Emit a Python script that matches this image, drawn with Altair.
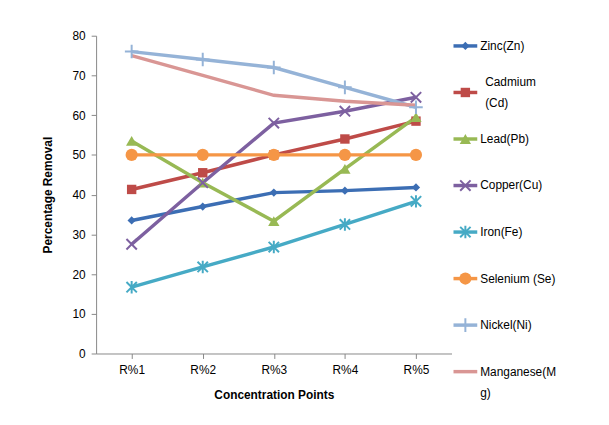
import altair as alt
import pandas as pd

points = ["R%1", "R%2", "R%3", "R%4", "R%5"]
series = ["Zinc(Zn)", "Cadmium (Cd)", "Lead(Pb)", "Copper(Cu)", "Iron(Fe)",
          "Selenium (Se)", "Nickel(Ni)", "Manganese(Mg)"]
legend_lines = [["Zinc(Zn)"], ["Cadmium", "(Cd)"], ["Lead(Pb)"], ["Copper(Cu)"], ["Iron(Fe)"],
                ["Selenium (Se)"], ["Nickel(Ni)"], ["Manganese(M", "g)"]]
zinc = [33.5, 37.0, 40.5, 41.0, 41.8]
cadmium = [41.3, 45.5, 50.0, 54.0, 58.5]
lead = [53.5, 43.0, 33.3, 46.5, 59.5]
copper = [27.5, 43.0, 58.0, 61.0, 64.5]
iron = [16.7, 21.8, 26.8, 32.5, 38.3]
selenium = [50.0, 50.0, 50.0, 50.0, 50.0]
nickel = [76.0, 74.0, 72.0, 67.0, 62.0]
manganese = [75.0, 70.0, 65.0, 63.5, 62.5]
values = [zinc, cadmium, lead, copper, iron, selenium, nickel, manganese]

colors = ["#3C6EB4", "#BE4B48", "#98B954", "#7D60A0", "#46AAC5", "#F59646", "#95B3D7", "#D99694"]
shapes = ["diamond", "square", "triangle-up", "M-1,-1L1,1M1,-1L-1,1",
          "M-1,-1L1,1M1,-1L-1,1M0,-1.2L0,1.2", "circle", "M-1.2,0L1.2,0M0,-1.2L0,1.2", None]
sizes = [70, 90, 130, 110, 110, 150, 130, 0]
filled = [True, True, True, False, False, True, False, True]
text_x = [28, 33, 28, 28, 28, 28, 28, 28]

FONT = "Liberation Sans"
W, H = 359, 321

rows = []
for s, v in zip(series, values):
    for p, val in zip(points, v):
        rows.append({"series": s, "point": p, "value": val})
df = pd.DataFrame(rows)

xenc = alt.X("point:N", sort=points, scale=alt.Scale(type="point", padding=0.5),
             axis=alt.Axis(title="Concentration Points", labelAngle=0, grid=False, domainColor="#888",
                           tickColor="#888", titleFontWeight="bold", titleFontSize=12, labelFontSize=12,
                           labelColor="black", titleColor="black", labelFont=FONT, titleFont=FONT,
                           labelPadding=6, titlePadding=14))
yenc = alt.Y("value:Q", scale=alt.Scale(domain=[0, 80]),
             axis=alt.Axis(title="Percentage Removal", values=list(range(0, 81, 10)), grid=False,
                           domainColor="#888", tickColor="#888", titleFontWeight="bold", titleFontSize=12,
                           labelFontSize=12, labelColor="black", titleColor="black", labelFont=FONT,
                           titleFont=FONT, labelPadding=6, titlePadding=18))

layers = []
for i, s in enumerate(series):
    d = df[df.series == s]
    layers.append(alt.Chart(d).mark_line(color=colors[i], strokeWidth=3.5).encode(x=xenc, y=yenc))
for i, s in enumerate(series):
    if shapes[i] is None:
        continue
    d = df[df.series == s]
    layers.append(alt.Chart(d).mark_point(shape=shapes[i], size=sizes[i], filled=filled[i],
                                          color=colors[i], opacity=1, strokeWidth=2).encode(x=xenc, y=yenc))
main = alt.layer(*layers).properties(width=W, height=H)

# manual legend (rows run past the plot bottom like the original)
ly = alt.Scale(domain=[-0.22, 6.61], reverse=True)
leg_layers = []
for i, s in enumerate(series):
    base = alt.Chart(pd.DataFrame({"row": [i]}))
    yl = alt.Y("row:Q", scale=ly, axis=None)
    leg_layers.append(base.mark_rule(color=colors[i], strokeWidth=3.5).encode(
        x=alt.value(1), x2=alt.value(25), y=yl))
    if shapes[i] is not None:
        leg_layers.append(base.mark_point(shape=shapes[i], size=sizes[i], filled=filled[i], color=colors[i],
                                          opacity=1, strokeWidth=2).encode(x=alt.value(13), y=yl))
    nl = len(legend_lines[i])
    leg_layers.append(base.mark_text(text=legend_lines[i] if nl > 1 else legend_lines[i][0], align="left",
                                     baseline="middle", font=FONT, fontSize=12, lineHeight=22,
                                     dy=-11 * (nl - 1) if i == 1 else 0).encode(x=alt.value(text_x[i]), y=yl))
legend = alt.layer(*leg_layers).properties(width=150, height=H)

chart = alt.hconcat(main, legend, spacing=0).properties(
    padding={"left": 33, "top": 20, "right": 0, "bottom": 0}
).configure(background="white").configure_view(stroke=None)
chart.save("out.html", embed_options={"renderer": "svg", "actions": False})
